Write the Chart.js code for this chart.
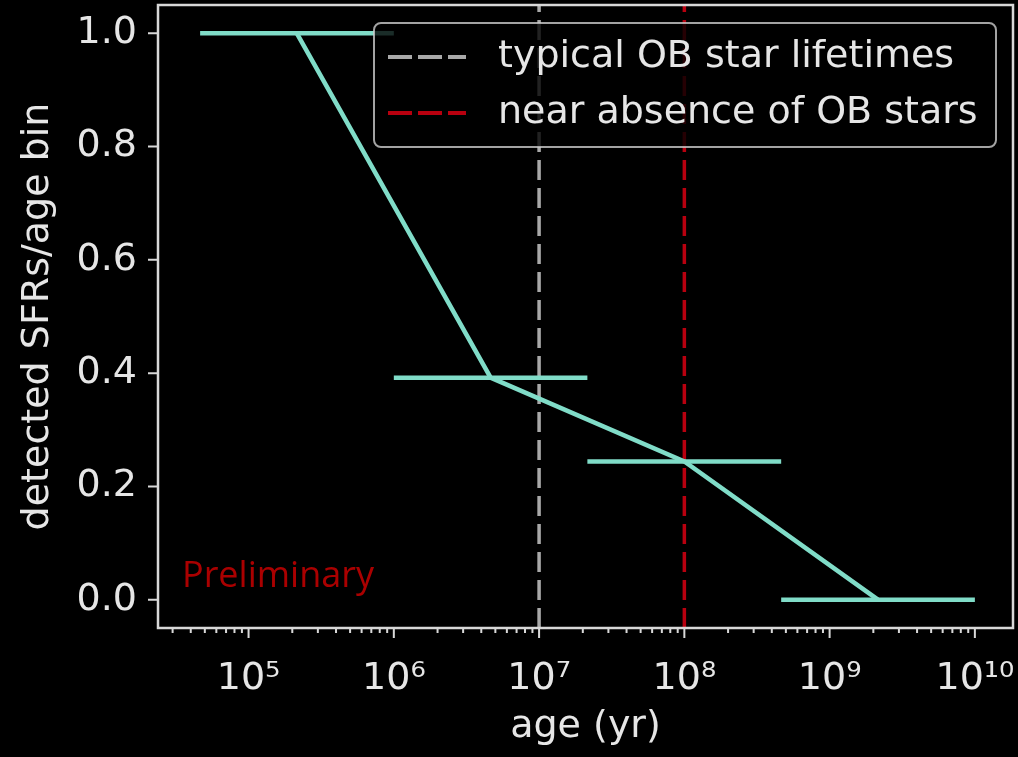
<!DOCTYPE html>
<html>
<head>
<meta charset="utf-8">
<script src="https://cdn.jsdelivr.net/npm/chart.js@4"></script>
<style>
  html, body { margin: 0; padding: 0; background: #000; }
  #wrap { width: 1018px; height: 757px; }
</style>
</head>
<body>
<div id="wrap"><canvas id="chart"></canvas></div>
<script>
// age bins (yr) and the fraction of SFRs detected in each
var binLow = [4.64e4, 1.0e6, 2.15e7, 4.64e8];
var binHigh = [1.0e6, 2.15e7, 4.64e8, 1.0e10];
var binMid = [2.15e5, 4.64e6, 1.0e8, 2.15e9];
var detectedFrac = [1.0, 0.392, 0.244, 0.0];

// reference ages
var refAges = [1e7, 1e8];
var refLabels = ['typical OB star lifetimes', 'near absence of OB stars'];
var refColors = ['#a9a9a9', '#b8000f'];

// axes
var xRange = [2.38e4, 1.83e10];
var yRange = [-0.05, 1.05];
var xMajor = [1e5, 1e6, 1e7, 1e8, 1e9, 1e10];
var yTicks = [0.0, 0.2, 0.4, 0.6, 0.8, 1.0];

var teal = '#80dcc8';
var fg = '#e6e6e6';
var FONT = '"DejaVu Sans", sans-serif';
var SUP = '⁰¹²³⁴⁵⁶⁷⁸⁹';

function sup(n) {
  return String(n).split('').map(function (d) { return SUP[+d]; }).join('');
}

var datasets = [];
// line through bin centres
datasets.push({
  data: binMid.map(function (m, i) { return { x: m, y: detectedFrac[i] }; }),
  borderColor: teal,
  borderWidth: 4.5,
  pointRadius: 0,
  order: 0
});
// horizontal bars = bin widths
binLow.forEach(function (lo, i) {
  datasets.push({
    data: [{ x: lo, y: detectedFrac[i] }, { x: binHigh[i], y: detectedFrac[i] }],
    borderColor: teal,
    borderWidth: 4.5,
    pointRadius: 0,
    order: 1
  });
});
// vertical reference lines
refAges.forEach(function (a, i) {
  datasets.push({
    data: [{ x: a, y: yRange[0] }, { x: a, y: yRange[1] }],
    borderColor: refColors[i],
    borderWidth: 3.5,
    borderDash: [20, 8],
    pointRadius: 0,
    order: 2
  });
});

var decor = {
  id: 'decor',
  afterDatasetsDraw: function (chart) {
    var ctx = chart.ctx, a = chart.chartArea;
    var xs = chart.scales.x, ys = chart.scales.y;
    ctx.save();

    // "Preliminary" stamp
    ctx.fillStyle = '#aa0000';
    ctx.font = '36px "Open Sans", sans-serif';
    ctx.textBaseline = 'alphabetic';
    ctx.fillText('Preliminary', 182, 587);

    // legend
    ctx.beginPath();
    ctx.roundRect(374, 23, 622, 124, 7);
    ctx.fillStyle = 'rgba(0,0,0,0.8)';
    ctx.fill();
    ctx.lineWidth = 2;
    ctx.strokeStyle = 'rgba(204,204,204,0.8)';
    ctx.stroke();
    var rows = [57, 113];
    ctx.font = '38px ' + FONT;
    ctx.textBaseline = 'middle';
    refLabels.forEach(function (lab, i) {
      ctx.beginPath();
      ctx.setLineDash([24, 6]);
      ctx.lineWidth = 4;
      ctx.strokeStyle = refColors[i];
      ctx.moveTo(388, rows[i]);
      ctx.lineTo(466, rows[i]);
      ctx.stroke();
      ctx.setLineDash([]);
      ctx.fillStyle = fg;
      ctx.fillText(lab, 498, rows[i]);
    });

    // spines
    ctx.lineWidth = 2.5;
    ctx.strokeStyle = '#d8d8d8';
    ctx.strokeRect(a.left, a.top, a.right - a.left, a.bottom - a.top);

    // tick marks
    ctx.lineWidth = 2;
    ctx.beginPath();
    yTicks.forEach(function (v) {
      var y = ys.getPixelForValue(v);
      ctx.moveTo(a.left - 10, y);
      ctx.lineTo(a.left, y);
    });
    for (var e = 4; e <= 10; e++) {
      for (var k = 1; k <= 9; k++) {
        var v = k * Math.pow(10, e);
        if (v < xRange[0] || v > xRange[1]) continue;
        var x = xs.getPixelForValue(v);
        ctx.moveTo(x, a.bottom);
        ctx.lineTo(x, a.bottom + (k === 1 ? 10 : 5));
      }
    }
    ctx.stroke();
    ctx.restore();
  }
};

new Chart(document.getElementById('chart'), {
  type: 'line',
  data: { datasets: datasets },
  options: {
    responsive: true,
    maintainAspectRatio: false,
    animation: false,
    layout: { padding: { top: 5, right: 5, left: 0, bottom: 0 } },
    plugins: { legend: { display: false }, tooltip: { enabled: false } },
    scales: {
      x: {
        type: 'logarithmic',
        min: xRange[0],
        max: xRange[1],
        grid: { display: false, drawTicks: false },
        border: { display: false },
        afterBuildTicks: function (s) {
          s.ticks = xMajor.map(function (v) { return { value: v }; });
        },
        afterFit: function (s) {
          s.height = 129;
          s.paddingLeft = 0; s.paddingRight = 0;
          s.paddingTop = 0; s.paddingBottom = 0;
        },
        ticks: {
          autoSkip: false,
          maxRotation: 0,
          padding: 28,
          color: fg,
          font: { family: FONT, size: 38 },
          callback: function (v) {
            return '10' + sup(Math.round(Math.log10(v)));
          }
        },
        title: {
          display: true,
          text: 'age (yr)',
          color: fg,
          font: { family: FONT, size: 38 },
          padding: { top: 0, bottom: 7 }
        }
      },
      y: {
        min: yRange[0],
        max: yRange[1],
        grid: { display: false, drawTicks: false },
        border: { display: false },
        afterBuildTicks: function (s) {
          s.ticks = yTicks.map(function (v) { return { value: v }; });
        },
        afterFit: function (s) {
          s.width = 158;
          s.paddingLeft = 0; s.paddingRight = 0;
          s.paddingTop = 0; s.paddingBottom = 0;
        },
        ticks: {
          padding: 21,
          color: fg,
          font: { family: FONT, size: 38 },
          callback: function (v) { return v.toFixed(1); }
        },
        title: {
          display: true,
          text: 'detected SFRs/age bin',
          color: fg,
          font: { family: FONT, size: 38 },
          padding: { top: 15, bottom: 0 }
        }
      }
    }
  },
  plugins: [decor]
});
</script>
</body>
</html>
